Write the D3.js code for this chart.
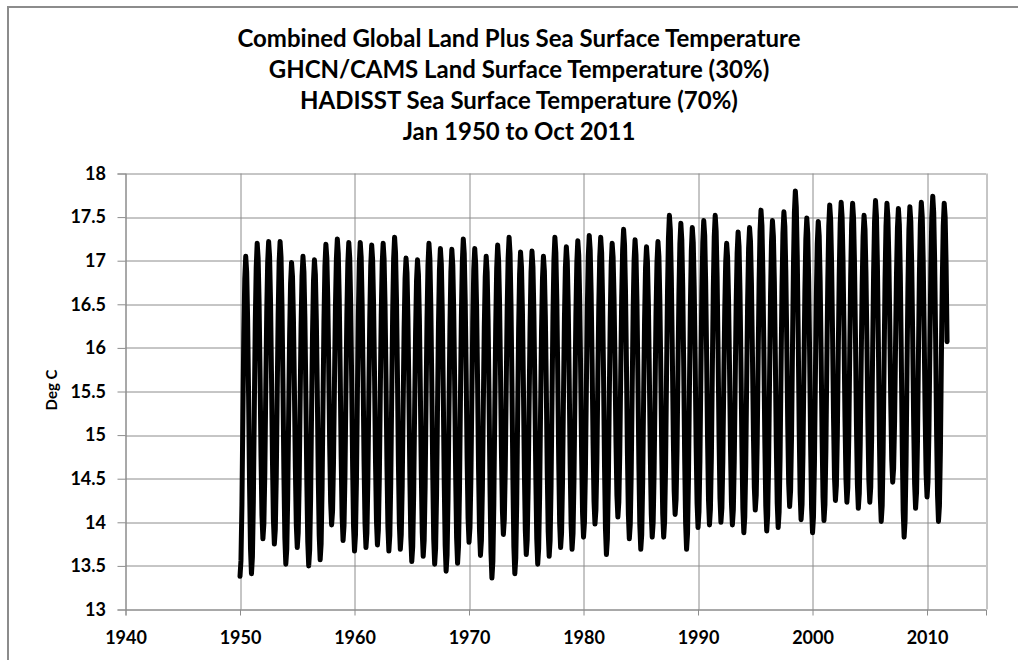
<!DOCTYPE html>
<html>
<head>
<meta charset="utf-8">
<script src="https://cdn.jsdelivr.net/npm/d3@7"></script>
<style>
  body { margin: 0; background: #fff; }
  svg { display: block; }
  text { font-family: "Lato", "Carlito", "Calibri", sans-serif; font-weight: bold; fill: #000; }
</style>
</head>
<body>
<div id="chart"></div>
<script>
// title lines
let titleLines = [
    "Combined Global Land Plus Sea Surface Temperature",
    "GHCN/CAMS Land Surface Temperature (30%)",
    "HADISST Sea Surface Temperature (70%)",
    "Jan 1950 to Oct 2011"
];

let yTicks = [13, 13.5, 14, 14.5, 15, 15.5, 16, 16.5, 17, 17.5, 18];
let xTicks = [1940, 1950, 1960, 1970, 1980, 1990, 2000, 2010];
let startYear = 1950;

// monthly values (Deg C), one row per year
let temps1950s = [
    13.38, 13.56, 14.19, 15.22, 16.17, 16.79, 17.05, 16.87, 16.32, 15.45, 14.43, 13.70,
    13.41, 13.60, 14.24, 15.31, 16.29, 16.93, 17.20, 17.03, 16.52, 15.71, 14.76, 14.08,
    13.81, 13.98, 14.56, 15.52, 16.40, 16.98, 17.22, 17.05, 16.53, 15.69, 14.72, 14.03,
    13.75, 13.92, 14.51, 15.49, 16.39, 16.98, 17.22, 17.04, 16.48, 15.59, 14.56, 13.82,
    13.52, 13.69, 14.28, 15.25, 16.15, 16.74, 16.98, 16.82, 16.33, 15.54, 14.63, 13.97,
    13.71, 13.88, 14.44, 15.38, 16.25, 16.82, 17.05, 16.87, 16.34, 15.49, 14.49, 13.78,
    13.50, 13.68, 14.27, 15.26, 16.17, 16.76, 17.01, 16.84, 16.32, 15.50, 14.53, 13.85,
    13.57, 13.75, 14.37, 15.38, 16.32, 16.94, 17.19, 17.03, 16.55, 15.77, 14.87, 14.23,
    13.97, 14.13, 14.69, 15.61, 16.46, 17.02, 17.25, 17.08, 16.56, 15.73, 14.76, 14.07,
    13.79, 13.96, 14.54, 15.50, 16.39, 16.97, 17.21, 17.03, 16.50, 15.65, 14.66, 13.95
];
let temps1960s = [
    13.67, 13.85, 14.45, 15.44, 16.36, 16.96, 17.21, 17.04, 16.51, 15.67, 14.69, 13.99,
    13.71, 13.88, 14.47, 15.45, 16.35, 16.94, 17.18, 17.01, 16.49, 15.67, 14.70, 14.02,
    13.74, 13.91, 14.50, 15.47, 16.37, 16.96, 17.20, 17.02, 16.49, 15.65, 14.66, 13.95,
    13.67, 13.85, 14.46, 15.47, 16.41, 17.02, 17.27, 17.09, 16.55, 15.69, 14.69, 13.98,
    13.69, 13.86, 14.42, 15.36, 16.23, 16.80, 17.03, 16.86, 16.33, 15.50, 14.52, 13.83,
    13.55, 13.72, 14.31, 15.28, 16.18, 16.77, 17.01, 16.84, 16.33, 15.51, 14.56, 13.88,
    13.61, 13.79, 14.40, 15.41, 16.34, 16.95, 17.20, 17.02, 16.46, 15.58, 14.55, 13.81,
    13.52, 13.70, 14.32, 15.33, 16.27, 16.89, 17.14, 16.96, 16.40, 15.51, 14.48, 13.74,
    13.44, 13.62, 14.25, 15.29, 16.24, 16.87, 17.13, 16.95, 16.41, 15.55, 14.54, 13.82,
    13.53, 13.72, 14.35, 15.39, 16.36, 16.99, 17.25, 17.08, 16.55, 15.72, 14.74, 14.05
];
let temps1970s = [
    13.77, 13.94, 14.51, 15.46, 16.33, 16.90, 17.14, 16.96, 16.44, 15.59, 14.61, 13.90,
    13.62, 13.79, 14.37, 15.34, 16.23, 16.81, 17.05, 16.87, 16.31, 15.43, 14.39, 13.66,
    13.36, 13.55, 14.20, 15.27, 16.26, 16.91, 17.18, 17.01, 16.52, 15.72, 14.79, 14.13,
    13.86, 14.03, 14.61, 15.57, 16.45, 17.03, 17.27, 17.08, 16.50, 15.57, 14.49, 13.72,
    13.41, 13.59, 14.22, 15.26, 16.21, 16.84, 17.10, 16.93, 16.41, 15.57, 14.60, 13.91,
    13.63, 13.80, 14.40, 15.37, 16.27, 16.87, 17.11, 16.93, 16.39, 15.53, 14.53, 13.81,
    13.52, 13.70, 14.30, 15.29, 16.20, 16.80, 17.05, 16.88, 16.36, 15.54, 14.57, 13.89,
    13.61, 13.79, 14.42, 15.44, 16.39, 17.01, 17.27, 17.09, 16.56, 15.70, 14.71, 13.99,
    13.71, 13.88, 14.47, 15.44, 16.33, 16.92, 17.16, 16.99, 16.47, 15.63, 14.66, 13.97,
    13.69, 13.87, 14.47, 15.46, 16.38, 16.98, 17.23, 17.06, 16.55, 15.73, 14.78, 14.10
];
let temps1980s = [
    13.83, 14.00, 14.59, 15.56, 16.46, 17.05, 17.29, 17.12, 16.63, 15.83, 14.91, 14.24,
    13.98, 14.14, 14.70, 15.63, 16.48, 17.04, 17.27, 17.09, 16.54, 15.67, 14.65, 13.92,
    13.63, 13.81, 14.42, 15.42, 16.34, 16.95, 17.20, 17.04, 16.57, 15.82, 14.94, 14.31,
    14.06, 14.23, 14.79, 15.71, 16.57, 17.13, 17.36, 17.18, 16.65, 15.80, 14.80, 14.09,
    13.81, 13.98, 14.56, 15.53, 16.42, 17.00, 17.24, 17.06, 16.53, 15.68, 14.68, 13.97,
    13.69, 13.86, 14.45, 15.43, 16.33, 16.92, 17.16, 16.99, 16.49, 15.69, 14.76, 14.10,
    13.83, 14.00, 14.58, 15.53, 16.41, 16.98, 17.22, 17.05, 16.54, 15.73, 14.78, 14.10,
    13.83, 14.01, 14.64, 15.68, 16.63, 17.26, 17.52, 17.35, 16.83, 16.01, 15.05, 14.36,
    14.09, 14.26, 14.82, 15.76, 16.63, 17.20, 17.43, 17.24, 16.68, 15.78, 14.74, 13.99,
    13.69, 13.87, 14.50, 15.54, 16.49, 17.12, 17.38, 17.21, 16.69, 15.87, 14.90, 14.22
];
let temps1990s = [
    13.94, 14.12, 14.71, 15.70, 16.62, 17.21, 17.46, 17.29, 16.76, 15.92, 14.95, 14.25,
    13.97, 14.15, 14.75, 15.75, 16.67, 17.27, 17.52, 17.34, 16.82, 15.97, 14.99, 14.28,
    14.00, 14.16, 14.70, 15.60, 16.43, 16.98, 17.20, 17.04, 16.55, 15.78, 14.87, 14.23,
    13.97, 14.14, 14.71, 15.65, 16.52, 17.09, 17.33, 17.16, 16.64, 15.81, 14.85, 14.16,
    13.88, 14.06, 14.65, 15.63, 16.54, 17.14, 17.38, 17.22, 16.73, 15.95, 15.05, 14.40,
    14.14, 14.31, 14.90, 15.86, 16.75, 17.34, 17.58, 17.40, 16.84, 15.96, 14.93, 14.19,
    13.90, 14.08, 14.68, 15.68, 16.61, 17.21, 17.46, 17.28, 16.76, 15.91, 14.93, 14.22,
    13.94, 14.12, 14.74, 15.75, 16.69, 17.31, 17.56, 17.39, 16.88, 16.07, 15.13, 14.45,
    14.18, 14.36, 14.98, 15.99, 16.93, 17.55, 17.80, 17.61, 17.05, 16.14, 15.09, 14.33,
    14.03, 14.20, 14.79, 15.76, 16.66, 17.25, 17.49, 17.31, 16.77, 15.90, 14.89, 14.17
];
let temps2000s = [
    13.88, 14.06, 14.67, 15.67, 16.59, 17.20, 17.45, 17.28, 16.76, 15.94, 14.98, 14.29,
    14.02, 14.20, 14.82, 15.83, 16.77, 17.39, 17.64, 17.47, 16.96, 16.15, 15.20, 14.52,
    14.25, 14.42, 15.00, 15.96, 16.85, 17.43, 17.67, 17.50, 16.98, 16.16, 15.19, 14.51,
    14.23, 14.40, 14.98, 15.95, 16.84, 17.42, 17.66, 17.49, 16.96, 16.12, 15.14, 14.44,
    14.16, 14.33, 14.90, 15.84, 16.71, 17.28, 17.52, 17.36, 16.86, 16.07, 15.15, 14.49,
    14.23, 14.40, 14.99, 15.96, 16.86, 17.45, 17.69, 17.51, 16.95, 16.07, 15.04, 14.30,
    14.01, 14.19, 14.81, 15.84, 16.78, 17.40, 17.66, 17.50, 17.02, 16.25, 15.36, 14.72,
    14.46, 14.62, 15.15, 16.03, 16.85, 17.38, 17.60, 17.41, 16.85, 15.94, 14.89, 14.13,
    13.83, 14.02, 14.66, 15.73, 16.71, 17.35, 17.62, 17.45, 16.93, 16.10, 15.13, 14.44,
    14.16, 14.34, 14.93, 15.92, 16.83, 17.42, 17.67, 17.50, 16.99, 16.18, 15.24, 14.56
];
let temps2010s = [
    14.29, 14.46, 15.05, 16.02, 16.91, 17.50, 17.74, 17.55, 16.99, 16.10, 15.05, 14.31,
    14.01, 14.19, 14.81, 15.84, 16.78, 17.40, 17.66, 17.50, 16.95, 16.07
];

let monthly = [].concat(temps1950s, temps1960s, temps1970s, temps1980s, temps1990s, temps2000s, temps2010s);
let series = monthly.map(function (v, i) { return { t: startYear + i / 12, v: v }; });

let W = 1018, H = 660;
let margin = { top: 173.5, right: 32, bottom: 50.5, left: 125.5 };
let width = W - margin.left - margin.right,
    height = H - margin.top - margin.bottom;

let svg = d3.select("#chart").append("svg")
    .attr("width", W)
    .attr("height", H);

svg.append("rect").attr("width", W).attr("height", H).attr("fill", "#fff");

// outer chart frame (only top and left edges fall inside the picture)
svg.append("rect")
    .attr("x", 8).attr("y", 7)
    .attr("width", 1100).attr("height", 1000)
    .attr("fill", "none")
    .attr("stroke", "#8c8c8c")
    .attr("stroke-width", 2);

// title
svg.append("g").selectAll("text")
    .data(titleLines)
    .enter()
    .append("text")
    .attr("x", 519)
    .attr("y", function (d, i) { return 47 + i * 31; })
    .attr("text-anchor", "middle")
    .style("font-size", "24px")
    .text(function (d) { return d; });

let g = svg.append("g")
    .attr("transform", "translate(" + margin.left + "," + margin.top + ")");

let x = d3.scaleLinear().domain([1940, 2015.15]).range([0, width]);
let y = d3.scaleLinear().domain([13, 18]).range([height, 0]);

// gridlines
g.append("g").selectAll("line")
    .data(yTicks)
    .enter().append("line")
    .attr("x1", 0).attr("x2", width)
    .attr("y1", function (d) { return Math.round(y(d)) + 0.5; })
    .attr("y2", function (d) { return Math.round(y(d)) + 0.5; })
    .attr("stroke", "#8c8c8c");

g.append("g").selectAll("line")
    .data(xTicks)
    .enter().append("line")
    .attr("y1", 0).attr("y2", height)
    .attr("x1", function (d) { return Math.round(x(d)) + 0.5; })
    .attr("x2", function (d) { return Math.round(x(d)) + 0.5; })
    .attr("stroke", "#8c8c8c");

g.append("line")
    .attr("x1", Math.round(width) + 0.5).attr("x2", Math.round(width) + 0.5)
    .attr("y1", 0).attr("y2", height)
    .attr("stroke", "#8c8c8c");

// axes
let yAxis = g.append("g")
    .call(d3.axisLeft(y).tickValues(yTicks).tickSize(8).tickPadding(11.5)
        .tickFormat(function (d) { return String(d); }));
yAxis.selectAll("text").style("font-size", "18px");

let xAxis = g.append("g")
    .attr("transform", "translate(0," + height + ")")
    .call(d3.axisBottom(x).tickValues(xTicks).tickSize(6).tickFormat(function (d) { return d; }));
xAxis.selectAll("text").style("font-size", "18px").attr("y", 22);

g.selectAll(".domain, .tick line").attr("stroke", "#8c8c8c");
g.selectAll(".tick text").attr("fill", "#000");

// the series
let line = d3.line()
    .x(function (d) { return x(d.t); })
    .y(function (d) { return y(d.v); });

g.append("path")
    .datum(series)
    .attr("d", line)
    .attr("fill", "none")
    .attr("stroke", "#000")
    .attr("stroke-width", 5)
    .attr("stroke-linejoin", "round")
    .attr("stroke-linecap", "round");

// y axis title
svg.append("text")
    .attr("transform", "translate(57,390) rotate(-90)")
    .attr("text-anchor", "middle")
    .style("font-size", "15px")
    .text("Deg C");
</script>
</body>
</html>
